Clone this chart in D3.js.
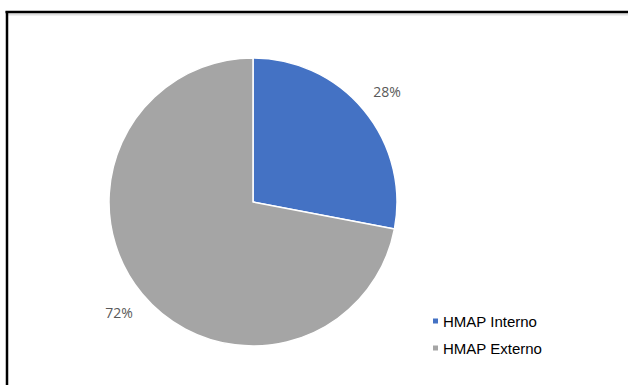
<!DOCTYPE html>
<html><head><meta charset="utf-8">
<script src="https://cdn.jsdelivr.net/npm/d3@7"></script>
<style>body{margin:0;background:#fff}svg{display:block}</style>
</head><body>
<script>
const categories = ["HMAP Interno", "HMAP Externo"];
const values = [28, 72];
const labels = ["28%", "72%"];
const colors = ["#4472C4", "#A5A5A5"];

const W = 628, H = 385;
const svg = d3.select("body").append("svg").attr("width", W).attr("height", H);

// frame
svg.append("line").attr("x1", 8).attr("x2", W).attr("y1", 14.5).attr("y2", 14.5)
  .attr("stroke", "#e0e0e0").attr("stroke-width", 2);
svg.append("line").attr("x1", 5.5).attr("x2", W).attr("y1", 12).attr("y2", 12)
  .attr("stroke", "#000").attr("stroke-width", 2.5);
svg.append("line").attr("x1", 7).attr("x2", 7).attr("y1", 11).attr("y2", H)
  .attr("stroke", "#000").attr("stroke-width", 2.5);

const cx = 253, cy = 202, R = 144;
const pie = d3.pie().sort(null).value(d => d)(values);
const arc = d3.arc().innerRadius(0).outerRadius(R);
const labelArc = d3.arc().innerRadius(174).outerRadius(174);

const g = svg.append("g").attr("transform", `translate(${cx},${cy})`);
g.selectAll("path").data(pie).join("path")
  .attr("d", arc)
  .attr("fill", (d, i) => colors[i])
  .attr("stroke", "#fff").attr("stroke-width", 1.5).attr("stroke-linejoin", "round");

g.selectAll("text").data(pie).join("text")
  .attr("transform", d => `translate(${labelArc.centroid(d)})`)
  .attr("text-anchor", "middle").attr("dominant-baseline", "central")
  .attr("font-family", "'Open Sans', sans-serif").attr("font-size", 14)
  .attr("fill", "#595959")
  .text((d, i) => labels[i]);

// legend
const lg = svg.append("g").attr("transform", "translate(433,321)");
const items = lg.selectAll("g").data(categories).join("g")
  .attr("transform", (d, i) => `translate(0,${i * 27})`);
items.append("rect").attr("x", 0).attr("y", -2.5).attr("width", 5).attr("height", 5)
  .attr("fill", (d, i) => colors[i]);
items.append("text").attr("x", 10).attr("y", 0).attr("dominant-baseline", "central")
  .attr("font-family", "'Liberation Sans', Arial, sans-serif").attr("font-size", 15)
  .attr("fill", "#000").text(d => d);
</script>
</body></html>
